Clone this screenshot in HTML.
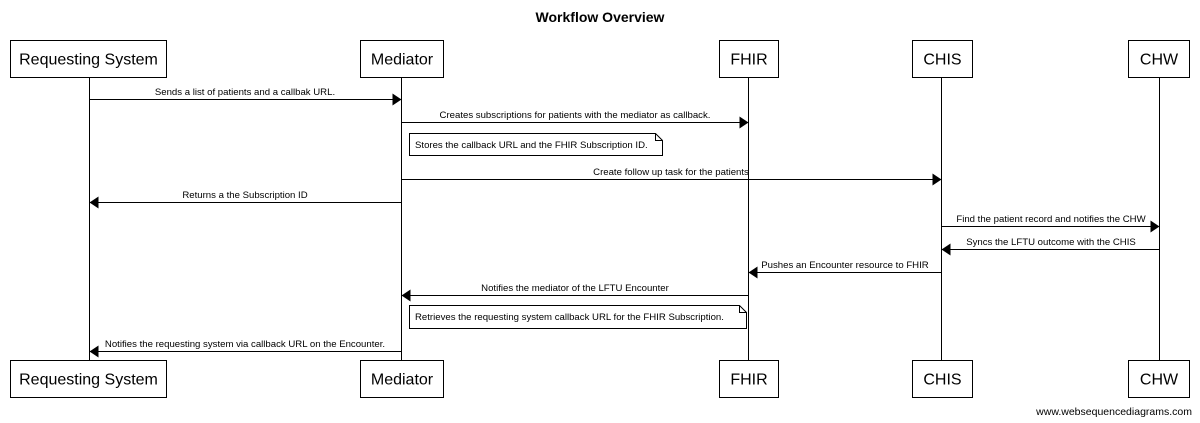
<!DOCTYPE html>
<html><head><meta charset="utf-8"><style>
html,body{margin:0;padding:0;background:#fff;}
svg{display:block;font-family:"Liberation Sans",Arial,sans-serif;}
.m{font-size:9.6px;fill:#000;}
.b{font-size:16px;fill:#000;}
</style></head><body>
<svg width="1200" height="423" viewBox="0 0 1200 423" xmlns="http://www.w3.org/2000/svg">
<defs>
<marker id="ar" markerWidth="9" markerHeight="12" refX="9" refY="6" orient="auto" markerUnits="userSpaceOnUse">
<path d="M0,0 L9,6 L0,12 Z" fill="#000"/></marker>
</defs>
<text x="600" y="22" text-anchor="middle" font-size="14" font-weight="bold">Workflow Overview</text>
<g stroke="#000" stroke-width="1" fill="none">
<line x1="89.5" y1="77" x2="89.5" y2="360"/>
<line x1="401.5" y1="77" x2="401.5" y2="360"/>
<line x1="748.5" y1="77" x2="748.5" y2="360"/>
<line x1="941.5" y1="77" x2="941.5" y2="360"/>
<line x1="1159.5" y1="77" x2="1159.5" y2="360"/>
</g>
<g stroke="#000" stroke-width="1" fill="#fff">
<rect x="10.5" y="40.5" width="156" height="37"/>
<rect x="360.5" y="40.5" width="83" height="37"/>
<rect x="719.5" y="40.5" width="59" height="37"/>
<rect x="912.5" y="40.5" width="60" height="37"/>
<rect x="1128.5" y="40.5" width="61" height="37"/>
<rect x="10.5" y="360.5" width="156" height="37"/>
<rect x="360.5" y="360.5" width="83" height="37"/>
<rect x="719.5" y="360.5" width="59" height="37"/>
<rect x="912.5" y="360.5" width="60" height="37"/>
<rect x="1128.5" y="360.5" width="61" height="37"/>
</g>
<g class="b" text-anchor="middle">
<text x="88.5" y="64.5">Requesting System</text>
<text x="402" y="64.5">Mediator</text>
<text x="749" y="64.5">FHIR</text>
<text x="942.5" y="64.5">CHIS</text>
<text x="1159" y="64.5">CHW</text>
<text x="88.5" y="384.5">Requesting System</text>
<text x="402" y="384.5">Mediator</text>
<text x="749" y="384.5">FHIR</text>
<text x="942.5" y="384.5">CHIS</text>
<text x="1159" y="384.5">CHW</text>
</g>
<g stroke="#000" stroke-width="1" marker-end="url(#ar)">
<line x1="89.5" y1="99.5" x2="401.5" y2="99.5"/>
<line x1="401.5" y1="122.5" x2="748.5" y2="122.5"/>
<line x1="401.5" y1="179.5" x2="941.5" y2="179.5"/>
<line x1="401.5" y1="202.5" x2="89.5" y2="202.5"/>
<line x1="941.5" y1="226.5" x2="1159.5" y2="226.5"/>
<line x1="1159.5" y1="249.5" x2="941.5" y2="249.5"/>
<line x1="941.5" y1="272.5" x2="748.5" y2="272.5"/>
<line x1="748.5" y1="295.5" x2="401.5" y2="295.5"/>
<line x1="401.5" y1="351.5" x2="89.5" y2="351.5"/>
</g>
<g class="m" text-anchor="middle">
<text x="245" y="95">Sends a list of patients and a callbak URL.</text>
<text x="575" y="118">Creates subscriptions for patients with the mediator as callback.</text>
<text x="671" y="175">Create follow up task for the patients</text>
<text x="245" y="198">Returns a the Subscription ID</text>
<text x="1051" y="222">Find the patient record and notifies the CHW</text>
<text x="1051" y="245">Syncs the LFTU outcome with the CHIS</text>
<text x="845" y="268">Pushes an Encounter resource to FHIR</text>
<text x="575" y="291">Notifies the mediator of the LFTU Encounter</text>
<text x="245" y="347">Notifies the requesting system via callback URL on the Encounter.</text>
</g>
<g stroke="#000" stroke-width="1" fill="#fff">
<path d="M409.5,133.5 H655.5 L662.5,140.5 V155.5 H409.5 Z"/>
<path d="M655.5,133.5 V140.5 H662.5" fill="none"/>
<path d="M409.5,305.5 H739.5 L746.5,312.5 V328.5 H409.5 Z"/>
<path d="M739.5,305.5 V312.5 H746.5" fill="none"/>
</g>
<g class="m">
<text x="415" y="148">Stores the callback URL and the FHIR Subscription ID.</text>
<text x="415" y="320">Retrieves the requesting system callback URL for the FHIR Subscription.</text>
</g>
<text x="1192" y="415" text-anchor="end" font-size="10.5">www.websequencediagrams.com</text>
</svg>
</body></html>
